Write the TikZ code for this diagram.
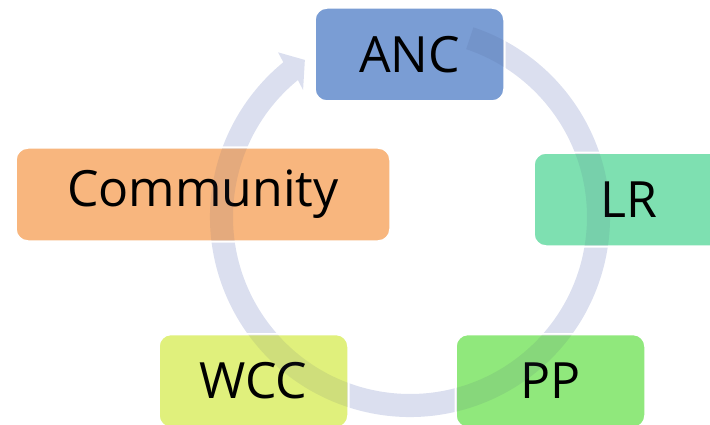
\documentclass[tikz,border=0pt]{standalone}
\usepackage{fontspec}
\newfontfamily\phasefont{Open Sans}
\definecolor{ancblue}{RGB}{122,157,212}
\definecolor{lrgreen}{RGB}{126,224,177}
\definecolor{comorange}{RGB}{248,182,126}
\definecolor{wccyellow}{RGB}{224,240,124}
\definecolor{ppgreen}{RGB}{144,232,124}
\definecolor{ringpale}{RGB}{238,241,253}
\definecolor{ringdark}{RGB}{60,70,120}
\tikzset{phase/.style={rectangle,rounded corners=12pt,draw=white,line width=1.5pt,
    minimum width=189pt,minimum height=93pt,inner sep=0pt,
    font=\phasefont\fontsize{50}{60}\selectfont}}
\tikzset{edgeline/.style={white,line width=1.5pt,rounded corners=12pt}}
\newcommand{\cyclering}{(71.5:200pt) arc[start angle=71.5,end angle=-230.7,radius=200pt]
    -- (-231.3:211pt) -- (-236.2:189pt) -- (-229.9:166pt) -- (-230.7:177pt)
    arc[start angle=-230.7,end angle=71.5,radius=177pt] -- cycle}

\begin{document}
\begin{tikzpicture}[x=1pt,y=1pt]
        \useasboundingbox (0,0) rectangle (710,424);
        \clip (0,0) rectangle (710,424);
        \coordinate (hub) at (410,207);
        % draw the ring (under the boxes)
        \fill[ringpale,shift={(hub)}] \cyclering;
        % draw the boxes
        \node[phase,fill=ancblue] (anc) at (409.5,369.5) {ANC};
        \node[phase,fill=lrgreen] (lr) at (628.5,224.5) {LR};
        \node[phase,fill=ppgreen] (pp) at (550.5,43) {PP};
        \node[phase,fill=wccyellow] (wcc) at (253.5,43) {WCC};
        \node[phase,fill=comorange,minimum width=374pt] (com) at (203,229.5) {Community};
        % draw the ring again, see-through, over the boxes
        \fill[ringdark,opacity=0.1,shift={(hub)}] \cyclering;
        \foreach \b in {anc,lr,pp,wcc,com}
            \draw[edgeline] (\b.south west) rectangle (\b.north east);
    \end{tikzpicture}
\end{document}
